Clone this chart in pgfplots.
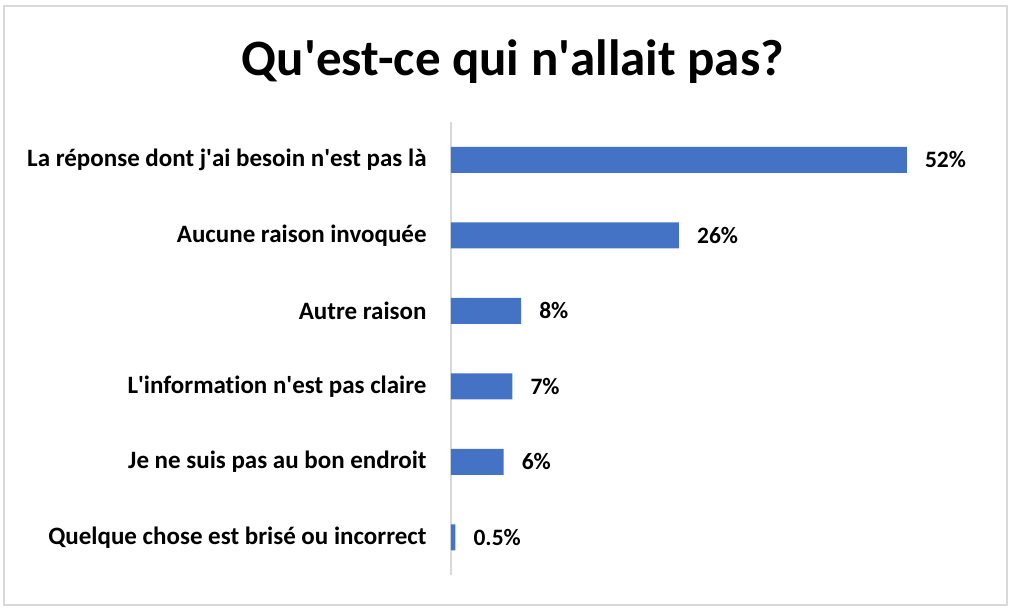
\documentclass[border=0pt]{standalone}
\usepackage{pgfplots}
\pgfplotsset{compat=1.18}
\usepackage{pgfplotstable}
\usepackage{fontspec}
\setmainfont{Carlito}[Ligatures=NoCommon]
\definecolor{barblue}{HTML}{4472C4}
\definecolor{lgray}{HTML}{D9D9D9}
\newcommand{\ap}{\textquotesingle}
\pgfplotstableread[col sep=comma]{
idx,val,lab
0,52,52\%
1,26,26\%
2,8,8\%
3,7,7\%
4,6,6\%
5,0.5,0.5\%
}\datatable
\begin{document}
\begin{tikzpicture}
\path[fill=white] (-451pt,-41pt) rectangle (570pt,575pt);
\draw[lgray, line width=2pt] (-447pt,-30pt) rectangle (556pt,569pt);
\node[font=\fontsize{51}{56}\selectfont\bfseries] at (62pt,513pt) {Qu\ap est-ce qui n\ap allait pas?};
\begin{axis}[
  scale only axis,
  width=526pt, height=453pt,
  xmin=0, xmax=60,
  ymin=-0.5, ymax=5.5,
  y dir=reverse,
  xbar,
  bar width=26pt,
  axis x line=none,
  axis y line*=left,
  y axis line style={draw=lgray, line width=2.5pt, -},
  ytick={0,1,2,3,4,5},
  yticklabels={La réponse dont j\ap ai besoin n\ap est pas là, Aucune raison invoquée, Autre raison, L\ap information n\ap est pas claire, Je ne suis pas au bon endroit, Quelque chose est brisé ou incorrect},
  ytick style={draw=none},
  yticklabel style={font=\fontsize{25}{28}\selectfont\bfseries, inner sep=0pt, xshift=-20pt, anchor=east},
  nodes near coords,
  point meta=explicit symbolic,
  nodes near coords style={font=\fontsize{23.5}{26}\selectfont\bfseries, anchor=west, inner sep=0pt, xshift=18pt},
  clip=false,
]
\addplot[fill=barblue, draw=none] table[x=val, y=idx, meta=lab] {\datatable};
\end{axis}
\end{tikzpicture}
\end{document}
